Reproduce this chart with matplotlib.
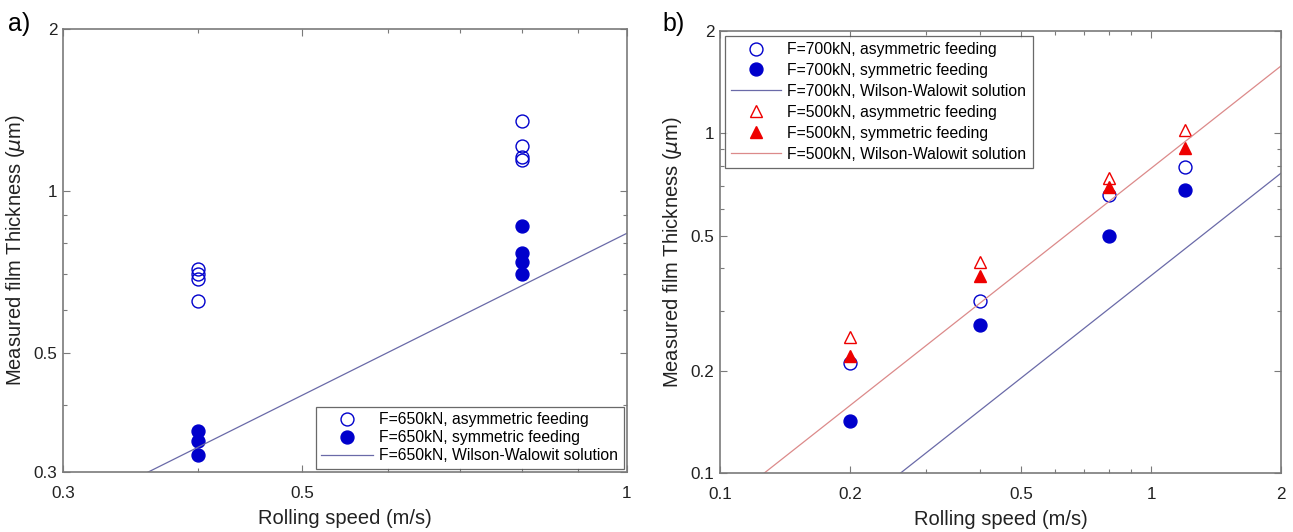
import numpy as np
import matplotlib
matplotlib.use('Agg')
import matplotlib.pyplot as plt
from matplotlib.ticker import FixedLocator, NullFormatter, LogLocator, FixedFormatter

plt.rcParams['font.family'] = ['Liberation Sans', 'DejaVu Sans']
plt.rcParams['mathtext.fontset'] = 'dejavusans'

# ---------- data: panel a) ----------
a_speed_asym = [0.4, 0.4, 0.4, 0.4, 0.8, 0.8, 0.8, 0.8]
a_thick_asym = [0.716, 0.700, 0.685, 0.625, 1.346, 1.212, 1.157, 1.139]
a_speed_sym = [0.4, 0.4, 0.4, 0.8, 0.8, 0.8, 0.8]
a_thick_sym = [0.357, 0.343, 0.323, 0.862, 0.766, 0.737, 0.699]
a_ww_speed = [0.3, 1.0]
a_ww_thick = [0.250, 0.834]

# ---------- data: panel b) ----------
b_speed = [0.2, 0.4, 0.8, 1.2]
b_700_asym = [0.211, 0.321, 0.660, 0.796]
b_700_sym = [0.142, 0.273, 0.500, 0.679]
b_500_asym = [0.252, 0.417, 0.739, 1.025]
b_500_sym = [0.221, 0.381, 0.693, 0.903]
b_ww_speed = [0.1, 2.0]
b_ww_700 = [0.0381, 0.763]
b_ww_500 = [0.0789, 1.578]

a_xticks = [0.3, 0.5, 1]
a_yticks = [0.3, 0.5, 1, 2]
b_xticks = [0.1, 0.2, 0.5, 1, 2]
b_yticks = [0.1, 0.2, 0.5, 1, 2]

blue = '#0000cc'
red = '#ee0000'
ww_blue = '#6a6aa8'
ww_red = '#dc8a8a'
spine_c = '#7a7a7a'

fig = plt.figure(figsize=(12.93, 5.32), dpi=100)
fig.patch.set_facecolor('white')
ax1 = fig.add_axes([0.0487, 0.1128, 0.4362, 0.8327])
ax2 = fig.add_axes([0.5568, 0.1109, 0.4339, 0.8308])

ms = 9.3

ax1.plot(a_speed_asym, a_thick_asym, 'o', mfc='none', mec=blue, mew=1.0, ms=ms,
         label='F=650kN, asymmetric feeding')
ax1.plot(a_speed_sym, a_thick_sym, 'o', mfc=blue, mec=blue, ms=ms,
         label='F=650kN, symmetric feeding')
ax1.plot(a_ww_speed, a_ww_thick, '-', color=ww_blue, lw=0.9,
         label='F=650kN, Wilson-Walowit solution')

ax2.plot(b_speed, b_700_asym, 'o', mfc='none', mec=blue, mew=1.0, ms=ms,
         label='F=700kN, asymmetric feeding')
ax2.plot(b_speed, b_700_sym, 'o', mfc=blue, mec=blue, ms=ms,
         label='F=700kN, symmetric feeding')
ax2.plot(b_ww_speed, b_ww_700, '-', color=ww_blue, lw=0.9,
         label='F=700kN, Wilson-Walowit solution')
ax2.plot(b_speed, b_500_asym, '^', mfc='none', mec=red, mew=1.0, ms=ms,
         label='F=500kN, asymmetric feeding')
ax2.plot(b_speed, b_500_sym, '^', mfc=red, mec=red, ms=ms,
         label='F=500kN, symmetric feeding')
ax2.plot(b_ww_speed, b_ww_500, '-', color=ww_red, lw=0.9,
         label='F=500kN, Wilson-Walowit solution')

for ax, xl, yl, xt, yt in [(ax1, (0.3, 1), (0.3, 2), a_xticks, a_yticks),
                           (ax2, (0.1, 2), (0.1, 2), b_xticks, b_yticks)]:
    ax.set_xscale('log')
    ax.set_yscale('log')
    ax.set_xlim(*xl)
    ax.set_ylim(*yl)
    ax.xaxis.set_major_locator(FixedLocator(xt))
    ax.xaxis.set_major_formatter(FixedFormatter([f'{v:g}' for v in xt]))
    ax.yaxis.set_major_locator(FixedLocator(yt))
    ax.yaxis.set_major_formatter(FixedFormatter([f'{v:g}' for v in yt]))
    ax.xaxis.set_minor_locator(LogLocator(base=10, subs=np.arange(2, 10)))
    ax.yaxis.set_minor_locator(LogLocator(base=10, subs=np.arange(2, 10)))
    ax.xaxis.set_minor_formatter(NullFormatter())
    ax.yaxis.set_minor_formatter(NullFormatter())
    ax.tick_params(which='both', direction='in', top=True, right=True,
                   colors=spine_c, labelcolor='#222222', labelsize=12.3)
    ax.tick_params(which='major', length=5, width=0.8)
    ax.tick_params(which='minor', length=3, width=0.8)
    ax.tick_params(axis='x', which='major', pad=10)
    ax.tick_params(axis='y', which='major', pad=4)
    for s in ax.spines.values():
        s.set_color(spine_c)
        s.set_linewidth(1.2)
    ax.set_xlabel('Rolling speed (m/s)', fontsize=14.5, color='#222222', labelpad=6)
    ax.set_ylabel(r'Measured film Thickness ($\mu$m)', fontsize=14.5, color='#222222',
                  labelpad=5)

leg1 = ax1.legend(loc='lower right', fontsize=11.3, frameon=True, fancybox=False,
                  borderaxespad=0.2, handlelength=3.3, labelspacing=0.2,
                  borderpad=0.35, handletextpad=0.4)
leg1.get_frame().set_edgecolor('#444444')
leg1.get_frame().set_linewidth(0.9)

leg2 = ax2.legend(loc='upper left', fontsize=11.3, frameon=True, fancybox=False,
                  borderaxespad=0.3, handlelength=3.2, labelspacing=0.38,
                  borderpad=0.4, handletextpad=0.4)
leg2.get_frame().set_edgecolor('#444444')
leg2.get_frame().set_linewidth(0.9)

fig.text(0.006, 0.978, 'a)', fontsize=18, va='top', ha='left')
fig.text(0.512, 0.978, 'b)', fontsize=18, va='top', ha='left')

fig.savefig('out.png', dpi=100, facecolor='white')
